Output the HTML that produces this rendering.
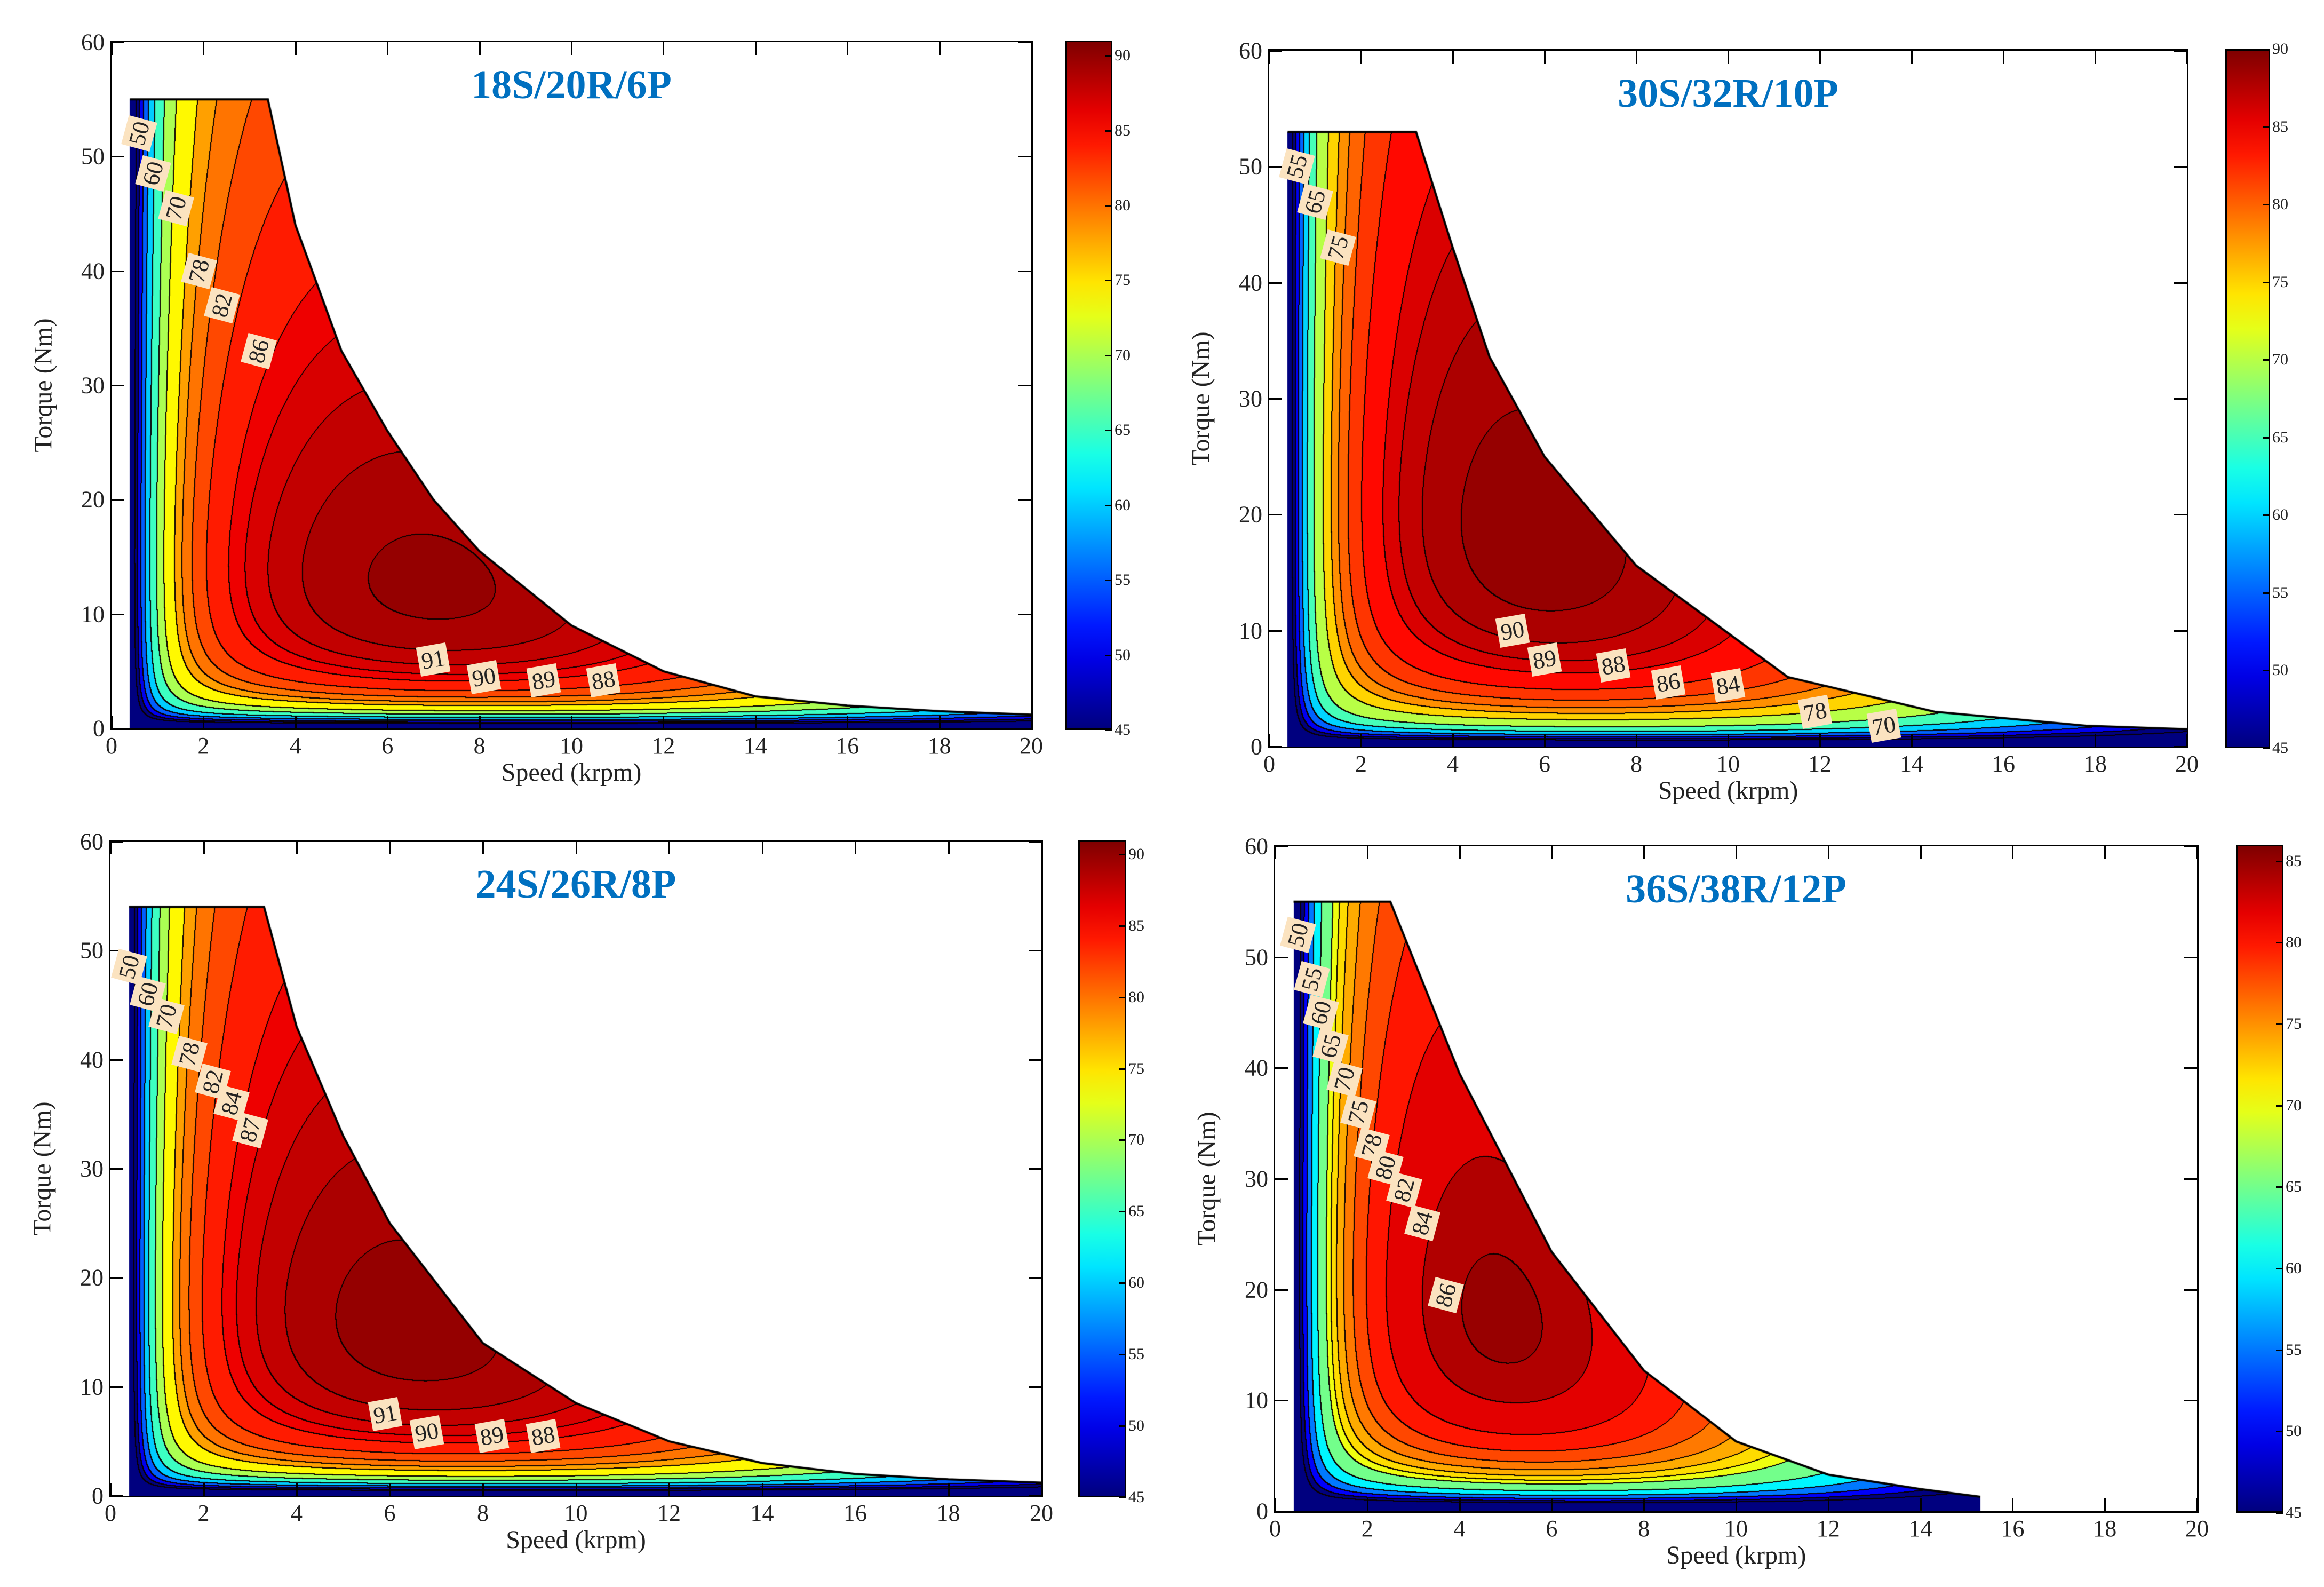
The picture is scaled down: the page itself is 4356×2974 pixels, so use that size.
<!DOCTYPE html>
<html><head><meta charset="utf-8">
<style>
html,body{margin:0;padding:0;background:#fff;}
body{width:4356px;height:2974px;position:relative;overflow:hidden;font-family:"Liberation Serif",serif;}
.plot{position:absolute;border:3px solid #000;box-sizing:border-box;background:#fff;}
.plot canvas{position:absolute;left:0;top:0;}
.cbar{position:absolute;border:3px solid #000;box-sizing:border-box;}
.tl{position:absolute;font-size:44px;color:#222;white-space:nowrap;}
.cbl{position:absolute;font-size:30px;color:#222;}
.title{position:absolute;font-weight:bold;color:#0070C0;font-size:76px;white-space:nowrap;}
.axt{position:absolute;font-size:48px;color:#222;white-space:nowrap;}
.lab{position:absolute;background:#fbe3c0;font-size:44px;padding:2px 6px;color:#222;}
.tick{position:absolute;background:#000;}
</style></head><body>
<div id="root"></div>
<script>
// ---------- data ----------
const titles = ["18S/20R/6P","30S/32R/10P","24S/26R/8P","36S/38R/12P"];
const xTicks = [0,2,4,6,8,10,12,14,16,18,20];
const yTicks = [0,10,20,30,40,50,60];
const peakEff = [92.2, 91.3, 92.2, 87.2];
const peakSpeed = [6.5, 5.2, 6.0, 4.3];
const peakTorque = [10, 16, 13, 16];
const speedCurv = [0.11, 0.14, 0.12, 0.27];
const torqueCurv = [2.5, 2.6, 2.5, 3.2];
const cbMax = [91, 90, 91, 86];
const cbTicks = [[45,50,55,60,65,70,75,80,85,90],[45,50,55,60,65,70,75,80,85,90],[45,50,55,60,65,70,75,80,85,90],[45,50,55,60,65,70,75,80,85]];
const levels = [
 [45,50,55,60,65,70,74,78,80,82,84,86,87,88,89,90,91],
 [45,50,55,60,65,70,75,78,80,82,84,86,87,88,89,90],
 [45,50,55,60,65,70,74,78,80,82,84,86,87,88,89,90,91],
 [45,50,55,60,65,70,72,74,76,78,80,82,84,85,86]];
const envSpeed = [
 [0.4,3.4,4,5,6,7,8,10,12,14,16,18,20],
 [0.4,3.2,4,4.8,6,8,11.3,14.5,17.8,20],
 [0.4,3.3,4,5,6,8,10,12,14,16,18,20],
 [0.4,2.5,4,6,8,10,12,14,15.3]];
const envTorque = [
 [55,55,44,33,26,20,15.5,9,5,2.8,2,1.5,1.2],
 [53,53,43,33.6,25,15.6,6,3,1.8,1.5],
 [54,54,43,33,25,14,8.5,5,3,2,1.5,1.2],
 [55,55,39.5,23.4,12.7,6.3,3.3,2,1.3]];
const labelText = [
 ["50","60","70","78","82","86","91","90","89","88"],
 ["55","65","75","90","89","88","86","84","78","70"],
 ["50","60","70","78","82","84","87","91","90","89","88"],
 ["50","55","60","65","70","75","78","80","82","84","86"]];
const labelSpeed = [
 [0.6,0.9,1.4,1.9,2.4,3.2,7.0,8.1,9.4,10.7],
 [0.6,1.0,1.5,5.3,6.0,7.5,8.7,10.0,11.9,13.4],
 [0.4,0.8,1.2,1.7,2.2,2.6,3.0,5.9,6.8,8.2,9.3],
 [0.5,0.8,1.0,1.2,1.5,1.8,2.1,2.4,2.8,3.2,3.7]];
const labelTorque = [
 [52,48.5,45.5,40,37,33,6,4.5,4.2,4.2],
 [50,47,43,10,7.5,7,5.5,5.3,3,1.8],
 [48.5,46,44,40.5,38,36,33.5,7.5,5.8,5.5,5.5],
 [52,48,45,42,39,36,33,31,29,26,19.5]];
const plotBox = [[206,76,1730,1292],[2376,92,1726,1310],[204,1574,1751,1232],[2387,1583,1734,1252]];
const cbBox = [[1997,76,88,1292],[4171,92,84,1310],[2021,1574,90,1232],[4191,1583,89,1252]];

function jet(t){t=Math.max(0,Math.min(1,t));
 const r=Math.max(0,Math.min(1,1.5-Math.abs(4*t-3))),g=Math.max(0,Math.min(1,1.5-Math.abs(4*t-2))),b=Math.max(0,Math.min(1,1.5-Math.abs(4*t-1)));
 return [r*255|0,g*255|0,b*255|0];}
function envAt(k,n){const s=envSpeed[k],t=envTorque[k];
 if(n<s[0]||n>s[s.length-1])return -1;
 for(let i=0;i<s.length-1;i++){if(n<=s[i+1]){const f=(n-s[i])/(s[i+1]-s[i]);return t[i]+f*(t[i+1]-t[i]);}}return t[t.length-1];}
function eff(k,n,T){
 const lt=Math.log(Math.max(T,0.01)/peakTorque[k]);
 const e=peakEff[k]-speedCurv[k]*Math.pow(n-peakSpeed[k]+0.8*lt,2)-torqueCurv[k]*lt*lt;
 return e*(n*n/(n*n+0.25))*(T/(T+0.18));}

const root=document.getElementById('root');
for(let k=0;k<4;k++){
 const [px,py,pw,ph]=plotBox[k];
 const plot=document.createElement('div');
 plot.className='plot';
 
 
 plot.style.cssText+=`left:${px}px;top:${py}px;width:${pw}px;height:${ph}px;`;
 root.appendChild(plot);
 const W=pw-6,H=ph-6;
 const cv=document.createElement('canvas');cv.width=W;cv.height=H;cv.style.left='0px';cv.style.top='0px';
 
 
 plot.appendChild(cv);
 const ctx=cv.getContext('2d');const img=ctx.createImageData(W,H);
 const lv=levels[k];const idx=new Int8Array(W*H);
 const sx=n=>n/20*W, sy=T=>H-T/60*H;
 for(let x=0;x<W;x++){const n=(x+0.5)/W*20;const env=envAt(k,n);
  for(let y=0;y<H;y++){const T=(H-y-0.5)/H*60;let li=-1;
   if(env>0&&T<=env){const e=eff(k,n,T);li=0;while(li<lv.length&&e>=lv[li])li++;}
   idx[y*W+x]=li;}}
 for(let y=0;y<H;y++)for(let x=0;x<W;x++){const p=y*W+x,li=idx[p],o=p*4;
  if(li<0){img.data[o]=255;img.data[o+1]=255;img.data[o+2]=255;img.data[o+3]=255;continue;}
  let edge=false;
  if(x+1<W&&idx[p+1]>=0&&idx[p+1]!==li)edge=true;
  if(x+2<W&&idx[p+2]>=0&&idx[p+2]!==li)edge=true;
  if(y+1<H&&idx[p+W]>=0&&idx[p+W]!==li)edge=true;
  if(y+2<H&&idx[p+2*W]>=0&&idx[p+2*W]!==li)edge=true;
  let c;
  if(edge)c=[10,0,0];else{const v=li===0?lv[0]:lv[Math.min(li,lv.length)-1];c=jet((v-45)/(cbMax[k]-45));}
  img.data[o]=c[0];img.data[o+1]=c[1];img.data[o+2]=c[2];img.data[o+3]=255;}
 ctx.putImageData(img,0,0);
 ctx.strokeStyle='#000';ctx.lineWidth=4;ctx.beginPath();
 envSpeed[k].forEach((s,i)=>{const X=sx(s),Y=sy(envTorque[k][i]);i?ctx.lineTo(X,Y):ctx.moveTo(X,Y);});ctx.stroke();
 xTicks.forEach(v=>{[0,1].forEach(side=>{const t=document.createElement('div');t.className='tick';
  
  
  t.style.cssText=`left:${sx(v)-1}px;${side?'top:0':'bottom:0'};width:3px;height:24px;`;plot.appendChild(t);});
  const l=document.createElement('div');l.className='tl';l.textContent=v;
  
  
  l.style.cssText=`left:${px+3+sx(v)}px;top:${py+ph+4}px;transform:translateX(-50%);`;root.appendChild(l);});
 yTicks.forEach(v=>{[0,1].forEach(side=>{const t=document.createElement('div');t.className='tick';
  
  
  t.style.cssText=`top:${sy(v)-1}px;${side?'left:0':'right:0'};height:3px;width:24px;`;plot.appendChild(t);});
  const l=document.createElement('div');l.className='tl';l.textContent=v;
  
  
  l.style.cssText=`right:${4356-px+10}px;top:${py+3+sy(v)}px;transform:translateY(-50%);`;root.appendChild(l);});
 labelText[k].forEach((txt,i)=>{const l=document.createElement('div');l.className='lab';l.textContent=txt;
  
  
  const rot=labelSpeed[k][i]<4?-75:-10;
  l.style.cssText=`left:${sx(labelSpeed[k][i])}px;top:${sy(labelTorque[k][i])}px;transform:translate(-50%,-50%) rotate(${rot}deg);`;plot.appendChild(l);});
 const ti=document.createElement('div');ti.className='title';ti.textContent=titles[k];
 
 
 ti.style.cssText=`left:${px+pw*0.5}px;top:${py+40}px;transform:translateX(-50%);`;root.appendChild(ti);
 const xt=document.createElement('div');xt.className='axt';xt.textContent='Speed (krpm)';
 
 
 xt.style.cssText=`left:${px+pw/2}px;top:${py+ph+52}px;transform:translateX(-50%);`;root.appendChild(xt);
 const yt=document.createElement('div');yt.className='axt';yt.textContent='Torque (Nm)';
 
 
 yt.style.cssText=`left:${px-125}px;top:${py+ph/2}px;transform:translate(-50%,-50%) rotate(-90deg);`;root.appendChild(yt);
 const [cx,cy,cw,ch]=cbBox[k];
 const cb=document.createElement('div');cb.className='cbar';
 
 
 const stops=[];for(let i=0;i<=20;i++){const c=jet(1-i/20);stops.push(`rgb(${c[0]},${c[1]},${c[2]}) ${i*5}%`);}
 cb.style.cssText=`left:${cx}px;top:${cy}px;width:${cw}px;height:${ch}px;background:linear-gradient(${stops.join(',')});`;
 root.appendChild(cb);
 cbTicks[k].forEach(v=>{const y=cy+ch-(v-45)/(cbMax[k]-45)*ch;
  const t=document.createElement('div');t.className='tick';
  
  
  t.style.cssText=`left:${cx+cw-14}px;top:${y-1}px;width:14px;height:3px;`;root.appendChild(t);
  const l=document.createElement('div');l.className='cbl';l.textContent=v;
  
  
  l.style.cssText=`left:${cx+cw+4}px;top:${y}px;transform:translateY(-50%);`;root.appendChild(l);});
}
</script>
</body></html>
